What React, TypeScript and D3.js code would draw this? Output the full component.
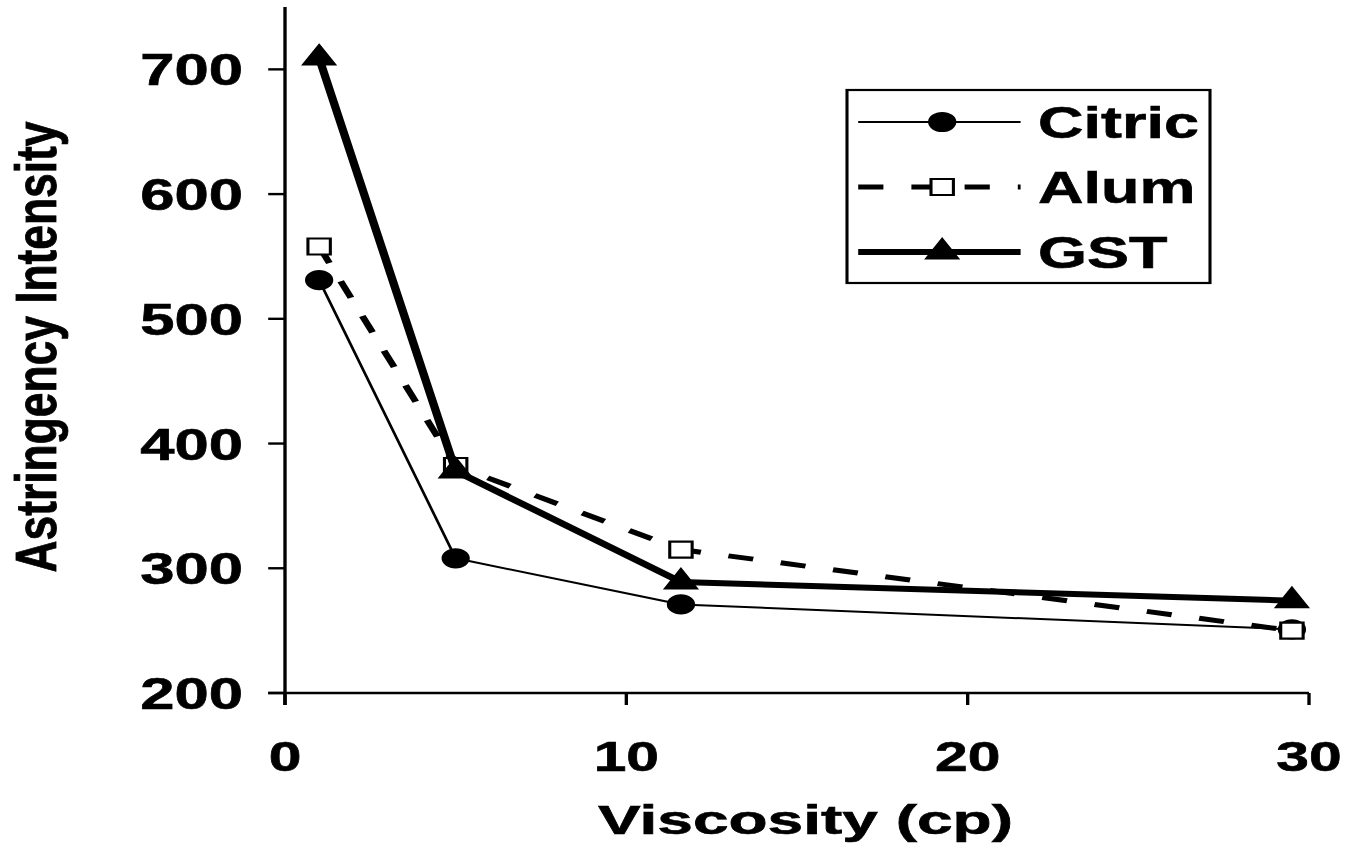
import React from 'react';
import * as d3 from 'd3';

// values
const viscosity = [1, 5, 11.6, 29.5];
const citric = [531, 308, 271, 251];
const alum = [558, 382, 315, 250];
const gst = [709, 378, 289, 274];
const xTicks = [0, 10, 20, 30];
const yTicks = [200, 300, 400, 500, 600, 700];

// the original picture is stretched sideways, so the whole svg is too
const STRETCH = 1.4;
const W = 1349;
const H = 853;
const VW = W / STRETCH;

const FONT = '"Liberation Sans", Arial, Helvetica, sans-serif';

const series = [
  { name: 'Citric', values: citric, width: 2, dash: null, symbol: d3.symbolCircle, size: 254, fill: '#000' },
  { name: 'Alum', values: alum, width: 5, dash: '18 20', symbol: d3.symbolSquare, size: 256, fill: '#fff' },
  { name: 'GST', values: gst, width: 6, dash: null, symbol: d3.symbolTriangle, size: 210, fill: '#000' },
];

const App = () => {
  const x = d3.scaleLinear().domain([0, 30]).range([285 / STRETCH, 1309 / STRETCH]);
  const y = d3.scaleLinear().domain([200, 750]).range([693, 7]);
  const tick = 12;

  const line = d3.line<number>()
    .x((_, i) => x(viscosity[i]))
    .y(d => y(d));

  const legendRows = [122, 187, 252];
  const legendX0 = 613;
  const legendX1 = 729;
  const legendMark = 673;

  return (
    <svg
      width={W}
      height={H}
      viewBox={`0 0 ${VW} ${H}`}
      preserveAspectRatio="none"
      style={{ position: 'absolute', left: 0, top: 0, background: '#fff' }}
      fontFamily={FONT}
      fontWeight="bold"
    >
      {/* axes */}
      <g stroke="#000" strokeWidth={2.4} fill="none">
        <line x1={x(0)} x2={x(0)} y1={y(750)} y2={y(200) + tick} />
        <line x1={x(0) - tick} x2={x(30)} y1={y(200)} y2={y(200)} />
        {yTicks.map(t => (
          <line key={t} x1={x(0) - tick} x2={x(0)} y1={y(t)} y2={y(t)} />
        ))}
        {xTicks.map(t => (
          <line key={t} x1={x(t)} x2={x(t)} y1={y(200)} y2={y(200) + tick} />
        ))}
      </g>

      <g fill="#000" stroke="#000" strokeWidth={0.6}>
        {yTicks.map(t => (
          <text key={t} x={173.6} y={y(t) + 16} textAnchor="end" fontSize={44}>
            {t}
          </text>
        ))}
        {xTicks.map(t => (
          <text key={t} x={x(t)} y={771} textAnchor="middle" fontSize={42}>
            {t}
          </text>
        ))}

        <text
          x={(598 + 1013) / 2 / STRETCH}
          y={834}
          textAnchor="middle"
          fontSize={41}
          textLength={415 / STRETCH}
          lengthAdjust="spacingAndGlyphs"
        >
          Viscosity (cp)
        </text>
        <text
          transform={`translate(${56 / STRETCH},347) rotate(-90)`}
          textAnchor="middle"
          fontSize={41}
          textLength={451}
          lengthAdjust="spacingAndGlyphs"
        >
          Astringency Intensity
        </text>
      </g>

      {/* series */}
      {series.map(s => (
        <g key={s.name}>
          <path
            d={line(s.values) || ''}
            fill="none"
            stroke="#000"
            strokeWidth={s.width}
            strokeDasharray={s.dash || undefined}
            strokeLinejoin="round"
          />
          {s.values.map((v, i) => (
            <path
              key={i}
              d={d3.symbol(s.symbol, s.size)() || ''}
              transform={`translate(${x(viscosity[i])},${y(v)})`}
              fill={s.fill}
              stroke="#000"
              strokeWidth={2.2}
            />
          ))}
        </g>
      ))}

      {/* legend */}
      <rect x={847 / STRETCH} y={90} width={(1210 - 847) / STRETCH} height={193} fill="#fff" stroke="#000" strokeWidth={2.2} />
      {series.map((s, i) => (
        <g key={s.name}>
          <line
            x1={legendX0}
            x2={legendX1}
            y1={legendRows[i]}
            y2={legendRows[i]}
            stroke="#000"
            strokeWidth={s.width}
            strokeDasharray={s.dash || undefined}
          />
          <path
            d={d3.symbol(s.symbol, s.size)() || ''}
            transform={`translate(${legendMark},${legendRows[i]})`}
            fill={s.fill}
            stroke="#000"
            strokeWidth={2.2}
          />
          <text x={1038 / STRETCH} y={legendRows[i] + 16} fontSize={45} fill="#000" stroke="#000" strokeWidth={0.6}>
            {s.name}
          </text>
        </g>
      ))}
    </svg>
  );
};

export default App;
